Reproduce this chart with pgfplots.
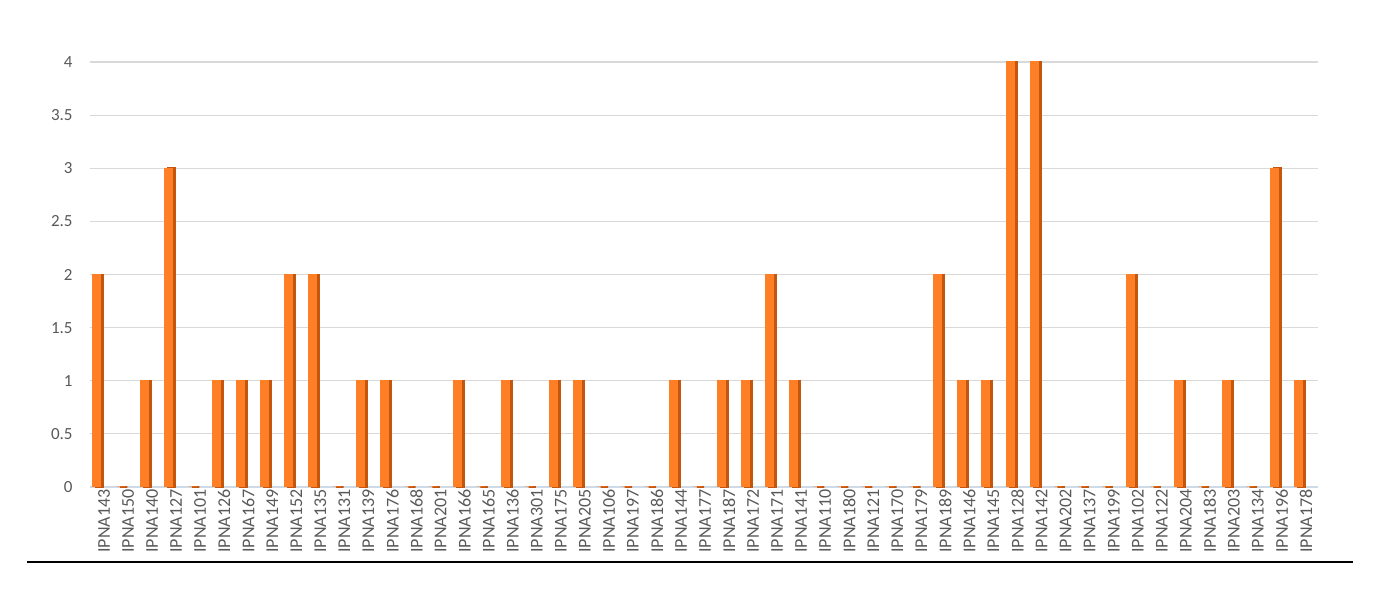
\documentclass[border=0pt]{standalone}
\usepackage{pgfplots}
\usepackage{pgfplotstable}
\pgfplotsset{compat=1.18}
\usepackage{fontspec}
\setmainfont{Carlito}

\definecolor{barfront}{RGB}{255,127,39}
\definecolor{barside}{RGB}{196,86,14}
\definecolor{gridc}{RGB}{217,217,217}
\definecolor{zeroc}{RGB}{205,218,232}
\definecolor{labc}{RGB}{89,89,89}

% count per sample
\pgfplotstableread{
idx name val
0 IPNA143 2
1 IPNA150 0
2 IPNA140 1
3 IPNA127 3
4 IPNA101 0
5 IPNA126 1
6 IPNA167 1
7 IPNA149 1
8 IPNA152 2
9 IPNA135 2
10 IPNA131 0
11 IPNA139 1
12 IPNA176 1
13 IPNA168 0
14 IPNA201 0
15 IPNA166 1
16 IPNA165 0
17 IPNA136 1
18 IPNA301 0
19 IPNA175 1
20 IPNA205 1
21 IPNA106 0
22 IPNA197 0
23 IPNA186 0
24 IPNA144 1
25 IPNA177 0
26 IPNA187 1
27 IPNA172 1
28 IPNA171 2
29 IPNA141 1
30 IPNA110 0
31 IPNA180 0
32 IPNA121 0
33 IPNA170 0
34 IPNA179 0
35 IPNA189 2
36 IPNA146 1
37 IPNA145 1
38 IPNA128 4
39 IPNA142 4
40 IPNA202 0
41 IPNA137 0
42 IPNA199 0
43 IPNA102 2
44 IPNA122 0
45 IPNA204 1
46 IPNA183 0
47 IPNA203 1
48 IPNA134 0
49 IPNA196 3
50 IPNA178 1
}\data

\begin{document}
\begin{tikzpicture}
% 1px of the reference = 0.5pt
\path[use as bounding box] (0,0) rectangle (689.5pt,304pt);

\begin{axis}[
    at={(44.8pt,60.5pt)}, anchor=south west,
    scale only axis,
    width=614.2pt, height=212.5pt,
    xmin=-0.35, xmax=50.75,
    ymin=0, ymax=4,
    ytick={0,0.5,...,4},
    xtick=data,
    xticklabels from table={\data}{name},
    xticklabel style={rotate=90, anchor=east, font=\fontsize{9}{10}\selectfont, color=labc, inner sep=1pt, yshift=-3pt},
    yticklabel style={font=\fontsize{8.5}{10}\selectfont, color=labc, xshift=-5pt},
    /pgf/number format/assume math mode=true,
    major tick length=0pt,
    ymajorgrids,
    grid style={gridc, line width=0.6pt},
    axis x line*=bottom, axis y line*=left,
    x axis line style={zeroc, line width=0.6pt, -},
    y axis line style={draw=none},
    ybar, bar width=4.5pt,
    clip=false,
]
\addplot[ybar, bar shift=0.75pt, bar width=3.7pt, fill=barside, draw=barside, line width=0.8pt] table[x=idx, y=val] {\data};
\addplot[ybar, bar shift=-0.75pt, bar width=4.0pt, fill=barfront, draw=barfront, line width=0.5pt] table[x=idx, y=val] {\data};
\end{axis}

\draw[black, line width=1.1pt] (13.5pt,23pt) -- (676.5pt,23pt);
\end{tikzpicture}
\end{document}
